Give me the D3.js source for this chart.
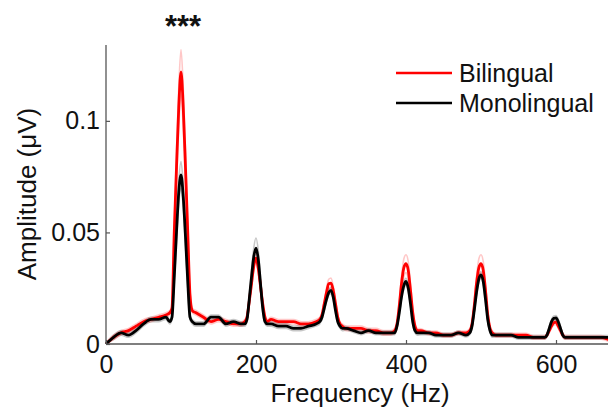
<!DOCTYPE html>
<html><head><meta charset="utf-8">
<script src="https://cdn.jsdelivr.net/npm/d3@7"></script>
<style>html,body{margin:0;padding:0;background:#fff;} svg{display:block;font-family:"Liberation Sans",Arial,sans-serif;}</style>
</head><body>
<script>
const freq = [0,10,20,30,40,50,60,70,80,85,
 88,91,94,97,100,103,106,109,112,115,
 120,130,140,150,160,170,180,185,
 188,191,194,197,200,203,206,209,212,215,
 220,230,240,250,260,270,280,285,
 288,291,294,297,300,303,306,309,312,315,
 320,330,340,350,360,370,380,385,
 388,391,394,397,400,403,406,409,412,415,
 420,430,440,450,460,470,480,485,
 488,491,494,497,500,503,506,509,512,515,
 520,530,540,550,560,570,580,585,
 588,591,594,597,600,603,606,609,612,615,
 620,630,640,650,660,670];
const bilingual = [0.000,0.003,0.005,0.006,0.008,0.010,0.011,0.012,0.013,0.014,
 0.016,0.050,0.079,0.106,0.122,0.106,0.079,0.050,0.022,0.015,
 0.014,0.012,0.010,0.011,0.010,0.009,0.009,0.010,
 0.012,0.019,0.027,0.035,0.0385,0.034,0.026,0.018,0.012,0.010,
 0.011,0.010,0.010,0.010,0.009,0.009,0.010,0.011,
 0.013,0.018,0.023,0.027,0.0273,0.024,0.018,0.012,0.009,0.008,
 0.007,0.007,0.007,0.006,0.006,0.005,0.005,0.006,
 0.009,0.017,0.027,0.034,0.036,0.033,0.024,0.014,0.008,0.006,
 0.006,0.005,0.005,0.004,0.004,0.005,0.005,0.006,
 0.009,0.017,0.027,0.034,0.036,0.033,0.024,0.013,0.007,0.005,
 0.004,0.004,0.004,0.004,0.004,0.003,0.003,0.003,
 0.004,0.006,0.008,0.0095,0.0098,0.008,0.006,0.004,0.003,0.003,
 0.003,0.003,0.003,0.003,0.003,0.002];
const monolingual = [0.000,0.003,0.005,0.004,0.006,0.009,0.011,0.011,0.012,0.010,
 0.012,0.030,0.050,0.068,0.0758,0.066,0.048,0.028,0.012,0.010,
 0.009,0.009,0.012,0.012,0.009,0.010,0.009,0.009,
 0.011,0.020,0.030,0.039,0.043,0.038,0.027,0.016,0.010,0.009,
 0.009,0.008,0.008,0.007,0.007,0.008,0.009,0.010,
 0.012,0.016,0.020,0.023,0.024,0.021,0.015,0.010,0.008,0.007,
 0.007,0.006,0.005,0.006,0.005,0.005,0.005,0.005,
 0.008,0.014,0.021,0.026,0.028,0.025,0.018,0.010,0.006,0.005,
 0.005,0.005,0.004,0.004,0.004,0.005,0.004,0.005,
 0.008,0.015,0.023,0.029,0.031,0.028,0.020,0.011,0.006,0.004,
 0.004,0.004,0.004,0.003,0.003,0.003,0.003,0.003,
 0.004,0.007,0.010,0.0115,0.0117,0.010,0.007,0.004,0.003,0.003,
 0.003,0.003,0.003,0.003,0.003,0.003];
const bilingualSE = [0.0005,0.001,0.001,0.001,0.001,0.001,0.001,0.001,0.001,0.001,
 0.001,0.004,0.007,0.009,0.010,0.009,0.007,0.004,0.002,0.001,
 0.001,0.001,0.001,0.001,0.001,0.001,0.001,0.001,
 0.001,0.001,0.002,0.002,0.002,0.002,0.002,0.001,0.001,0.001,
 0.001,0.001,0.001,0.001,0.001,0.001,0.001,0.001,
 0.001,0.001,0.002,0.002,0.0023,0.002,0.002,0.001,0.001,0.001,
 0.001,0.001,0.001,0.001,0.001,0.001,0.001,0.001,
 0.001,0.002,0.003,0.004,0.004,0.004,0.003,0.002,0.001,0.001,
 0.0008,0.0008,0.0008,0.0008,0.0008,0.0008,0.0008,0.0008,
 0.001,0.002,0.003,0.004,0.004,0.004,0.003,0.002,0.001,0.001,
 0.0008,0.0008,0.0008,0.0008,0.0008,0.0008,0.0008,0.0008,
 0.0008,0.001,0.001,0.001,0.001,0.001,0.001,0.001,0.0008,0.0008,
 0.0008,0.0008,0.0008,0.0008,0.0008,0.0008];
const monolingualSE = [0.0005,0.001,0.001,0.001,0.001,0.001,0.001,0.001,0.001,0.001,
 0.001,0.003,0.004,0.005,0.006,0.005,0.004,0.003,0.001,0.001,
 0.001,0.001,0.001,0.001,0.001,0.001,0.001,0.001,
 0.001,0.002,0.003,0.004,0.0045,0.004,0.003,0.002,0.001,0.001,
 0.001,0.001,0.001,0.001,0.001,0.001,0.001,0.001,
 0.001,0.001,0.001,0.001,0.0015,0.001,0.001,0.001,0.001,0.001,
 0.0008,0.0008,0.0008,0.0008,0.0008,0.0008,0.0008,0.0008,
 0.001,0.001,0.001,0.0015,0.0015,0.0015,0.001,0.001,0.001,0.001,
 0.0008,0.0008,0.0008,0.0008,0.0008,0.0008,0.0008,0.0008,
 0.001,0.001,0.001,0.0015,0.0015,0.0015,0.001,0.001,0.001,0.001,
 0.0008,0.0008,0.0008,0.0008,0.0008,0.0008,0.0008,0.0008,
 0.0008,0.0008,0.001,0.001,0.001,0.001,0.001,0.0008,0.0008,0.0008,
 0.0008,0.0008,0.0008,0.0008,0.0008,0.0008];
const xTicks = [0,200,400,600];
const yTicks = [0,0.05,0.1];
const yTickLabels = ["0","0.05","0.1"];
const seriesNames = ["Bilingual","Monolingual"];
const seriesColors = ["#ff0000","#000000"];

const W = 608, H = 408;
const svg = d3.select("body").append("svg").attr("width", W).attr("height", H);
const x = d3.scaleLinear().domain([0, 670]).range([106, 608.5]);
const y = d3.scaleLinear().domain([0, 0.134]).range([344, 45]);

const series = [
  {name: seriesNames[0], color: seriesColors[0], vals: bilingual, se: bilingualSE},
  {name: seriesNames[1], color: seriesColors[1], vals: monolingual, se: monolingualSE}
];
const line = d3.line().x(d => x(d[0])).y(d => y(d[1])).curve(d3.curveMonotoneX);

// faint SE bounds
series.forEach(s => {
  const up = freq.map((f,i) => [f, s.vals[i] + s.se[i]]);
  const lo = freq.map((f,i) => [f, Math.max(0, s.vals[i] - s.se[i])]);
  [up, lo].forEach(p => svg.append("path").attr("d", line(p)).attr("fill","none")
    .attr("stroke", s.color).attr("stroke-opacity", 0.22).attr("stroke-width", 1.6));
});
series.forEach(s => {
  svg.append("path").attr("d", line(freq.map((f,i) => [f, s.vals[i]])))
    .attr("fill","none").attr("stroke", s.color).attr("stroke-width", 2.8)
    .attr("stroke-linejoin","round");
});

// axes
const axisColor = "#555";
const xa = svg.append("g").attr("transform","translate(0,344)")
  .call(d3.axisBottom(x).tickValues(xTicks).tickSize(-4).tickPadding(8).tickFormat(d3.format("d")));
const ya = svg.append("g").attr("transform","translate(106,0)")
  .call(d3.axisLeft(y).tickValues(yTicks).tickSize(-4).tickPadding(6).tickFormat((d,i) => yTickLabels[i]));
[xa, ya].forEach(a => {
  a.select(".domain").attr("stroke", axisColor).attr("stroke-width", 1.3);
  a.selectAll(".tick line").attr("stroke", axisColor).attr("stroke-width", 1.2);
  a.selectAll(".tick text").attr("fill","#111").attr("font-size", 25)
    .attr("font-family", '"Liberation Sans",Arial,sans-serif');
});
ya.select(".domain").attr("d", "M0,344V45");
xa.select(".domain").attr("d", "M106,0H608");
xa.selectAll(".tick text").attr("y", 29).attr("dy", "0");

// axis labels
svg.append("text").attr("x", 360).attr("y", 402).attr("text-anchor","middle")
  .attr("font-size", 26).attr("fill","#111").text("Frequency (Hz)");
svg.append("text").attr("transform","translate(36,194) rotate(-90)").attr("text-anchor","middle")
  .attr("font-size", 26).attr("fill","#111").text("Amplitude (μV)");

// significance
svg.append("text").attr("x", 183).attr("y", 37).attr("text-anchor","middle")
  .attr("font-size", 31).attr("font-weight","bold").attr("fill","#111").text("***");

// legend
series.forEach((s, i) => {
  const ly = 73 + i * 30;
  svg.append("line").attr("x1", 396).attr("x2", 452).attr("y1", ly).attr("y2", ly)
    .attr("stroke", s.color).attr("stroke-width", 2.5);
  svg.append("text").attr("x", 459).attr("y", ly + 9).attr("font-size", 25)
    .attr("fill","#111").text(s.name);
});
</script>
</body></html>
